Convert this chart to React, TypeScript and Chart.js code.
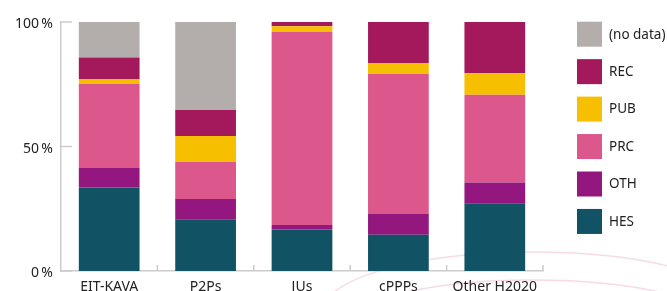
import React, { useEffect, useRef } from "react";
import { Chart, registerables } from "chart.js";

Chart.register(...registerables);

const categories = ["EIT-KAVA", "P2Ps", "JUs", "cPPPs", "Other H2020"];
const seriesNames = ["HES", "OTH", "PRC", "PUB", "REC", "(no data)"];
const seriesColors = ["#115364", "#93177e", "#dc578c", "#f6c000", "#a3195b", "#b3aeab"];
const hesValues = [33.5, 20.8, 16.7, 14.6, 27.2];
const othValues = [8.1, 8.1, 1.8, 8.3, 8.3];
const prcValues = [33.5, 14.9, 77.6, 56.3, 35.3];
const pubValues = [2.0, 10.4, 2.2, 4.3, 8.6];
const recValues = [8.6, 10.5, 1.7, 16.5, 20.6];
const noDataValues = [14.3, 35.3, 0, 0, 0];
const yTicks = [0, 50, 100];

const allValues = [hesValues, othValues, prcValues, pubValues, recValues, noDataValues];

const FONT = "'Noto Sans', sans-serif";
const TEXT = "#222222";
const AXIS = "#cccccc";

const decorPlugin = {
  id: "decor",
  beforeDraw(chart: any) {
    const ctx = chart.ctx;
    ctx.save();
    ctx.strokeStyle = "rgba(220,87,140,0.22)";
    ctx.lineWidth = 1.5;
    ctx.beginPath();
    ctx.ellipse(533, 313, 212, 61, 0, Math.PI, 2 * Math.PI);
    ctx.stroke();
    ctx.beginPath();
    ctx.ellipse(533, 341, 212, 61, 0, Math.PI, 2 * Math.PI);
    ctx.stroke();
    ctx.restore();
  },
};

const innerTicksPlugin = {
  id: "innerTicks",
  afterDraw(chart: any) {
    const ctx = chart.ctx;
    const { left, bottom } = chart.chartArea;
    const y = chart.scales.y;
    const x = chart.scales.x;
    ctx.save();
    ctx.strokeStyle = AXIS;
    ctx.lineWidth = 1.5;
    yTicks.forEach((v) => {
      const py = y.getPixelForValue(v);
      ctx.beginPath();
      ctx.moveTo(left, py);
      ctx.lineTo(left + 11, py);
      ctx.stroke();
    });
    const n = categories.length;
    for (let i = 1; i <= n; i++) {
      const px = (x.getPixelForValue(i - 1) + x.getPixelForValue(i)) / 2;
      ctx.beginPath();
      ctx.moveTo(px, bottom);
      ctx.lineTo(px, bottom - 6);
      ctx.stroke();
    }
    ctx.restore();
  },
};

const legendPlugin = {
  id: "customLegend",
  afterDraw(chart: any) {
    const ctx = chart.ctx;
    const ds = chart.data.datasets.slice().reverse();
    ctx.save();
    ctx.font = `13.5px ${FONT}`;
    ctx.textBaseline = "middle";
    ctx.textAlign = "left";
    ds.forEach((d: any, i: number) => {
      const top = 21.7 + i * 37.45;
      ctx.fillStyle = d.backgroundColor;
      ctx.fillRect(577, top, 25, 25);
      ctx.fillStyle = TEXT;
      ctx.fillText(d.label, 609, top + 13);
    });
    ctx.restore();
  },
};

export default function App() {
  const ref = useRef<HTMLCanvasElement | null>(null);
  useEffect(() => {
    if (!ref.current) return;
    const chart = new Chart(ref.current, {
      type: "bar",
      data: {
        labels: categories,
        datasets: seriesNames.map((name, i) => ({
          label: name,
          data: allValues[i],
          backgroundColor: seriesColors[i],
          borderWidth: 0,
          barPercentage: 0.63,
          categoryPercentage: 1,
        })),
      },
      options: {
        animation: false,
        responsive: false,
        maintainAspectRatio: false,
        layout: { padding: { top: 22, right: 124, left: 0, bottom: 0 } },
        plugins: { legend: { display: false }, tooltip: { enabled: false } },
        scales: {
          x: {
            stacked: true,
            grid: { display: false, drawTicks: false },
            border: { display: true, color: AXIS, width: 1.5 },
            ticks: { color: TEXT, font: { family: FONT, size: 14 }, padding: 8, maxRotation: 0 },
            afterFit: (s: any) => {
              s.height = 39;
            },
          },
          y: {
            stacked: true,
            min: 0,
            max: 100,
            grid: { display: false, drawTicks: false },
            border: { display: true, color: AXIS, width: 1.5 },
            afterBuildTicks: (s: any) => {
              s.ticks = yTicks.map((v) => ({ value: v }));
            },
            ticks: {
              color: TEXT,
              font: { family: FONT, size: 14 },
              padding: 8,
              labelOffset: 2.5,
              callback: (v: any) => `${v}\u202f%`,
            },
            afterFit: (s: any) => {
              s.width = 61;
            },
          },
        },
      },
      plugins: [decorPlugin, innerTicksPlugin, legendPlugin],
    });
    return () => chart.destroy();
  }, []);
  return (
    <div style={{ position: "fixed", left: 0, top: 0, width: 667, height: 310, background: "#fff" }}>
      <canvas ref={ref} width={667} height={310} style={{ width: 667, height: 310 }} />
    </div>
  );
}
